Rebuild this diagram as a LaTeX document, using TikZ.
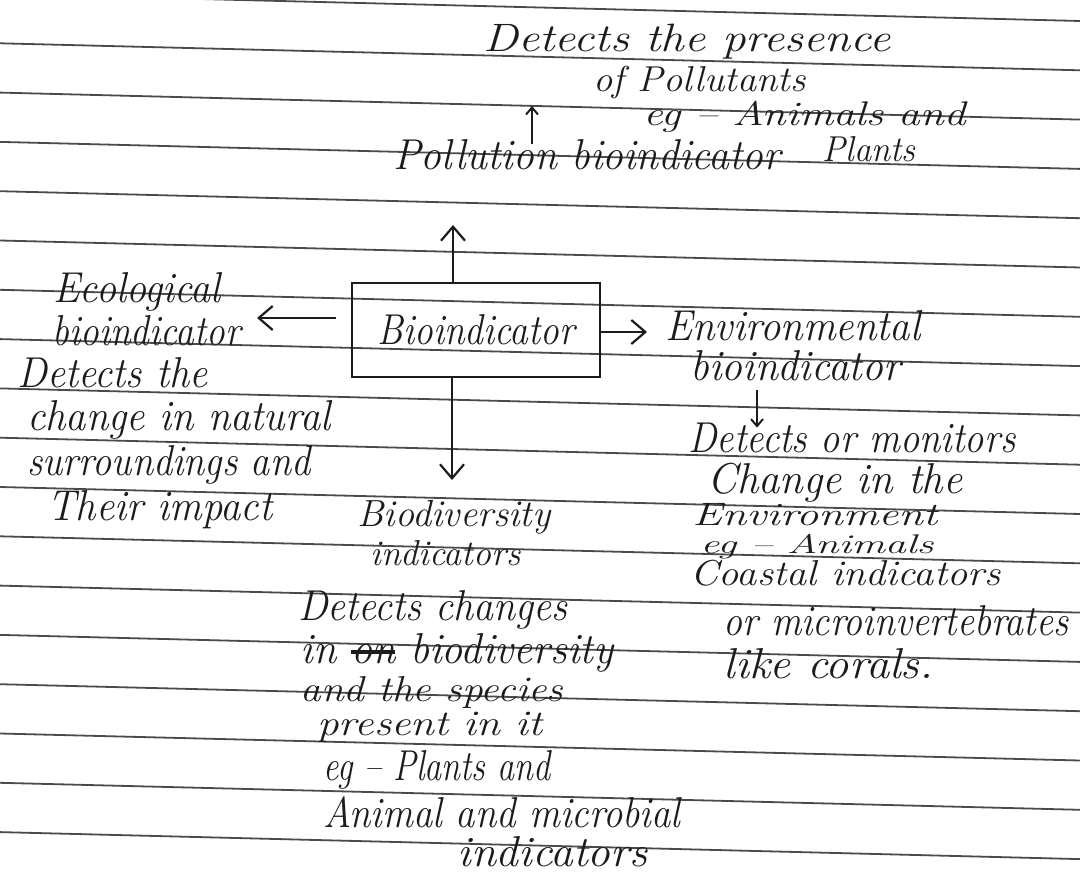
\documentclass[tikz,border=0pt]{standalone}
\usepackage{fontspec}
\usepackage{graphicx}
\usetikzlibrary{arrows.meta}
\newlength\pxu \setlength\pxu{0.5pt}
\newsavebox\strkbox
\newcommand\strk[1]{\sbox\strkbox{#1}\rlap{\rule[0.22em]{\wd\strkbox}{0.07em}}\usebox\strkbox}
\newcommand\hw[3][1.2]{\resizebox{#2\pxu}{#1\height}{\itshape #3}}
\definecolor{ink}{HTML}{1C1C1C}
\definecolor{rulec}{HTML}{4A4A4A}
\tikzset{
  hw/.style={anchor=west, inner sep=0pt, text height=11pt, text depth=3pt, text=ink, font=\fontsize{18}{20}\selectfont},
  hwt/.style={hw, text height=9pt, text depth=2pt},
  rulel/.style={draw=rulec, line width=0.9pt},
  arr/.style={draw=ink, line width=1.1pt, -{Straight Barb[length=7pt,width=12pt]}},
  arrs/.style={draw=ink, line width=1pt, -{Straight Barb[length=3.5pt,width=6pt]}},
  boxn/.style={draw=ink, line width=1.1pt, minimum width=124pt, minimum height=47pt, inner sep=0pt, font=\fontsize{18}{20}\selectfont, text=ink}
}
\begin{document}
\begin{tikzpicture}[x=0.5pt,y=-0.5pt]
\useasboundingbox (0,0) rectangle (1080,877);
\fill[white] (0,0) rectangle (1080,877);
\clip (0,0) rectangle (1080,877);
% ruled paper
\foreach \k in {0,...,18} {
  \draw[rulel] (0,{-6+49.3*\k}) -- (1080,{21+49.3*\k});
}
% top
\node[hw] (t1) at (483,44) {\hw[1.1]{407}{Detects the presence}};
\node[hw] (t2) at (593,84) {\hw[1.0]{212}{of Pollutants}};
\node[hwt] (t3) at (643,119) {\hw[0.95]{322}{eg -- Animals and}};
\node[hwt] (t4) at (822,155) {\hw[1.0]{93}{Plants}};
\node[hw] (poll) at (393,162) {\hw{387}{Pollution bioindicator}};
% centre box
\node[boxn] (bio) at (476,330) {\hw{197}{Bioindicator}};
% left
\node[hw] (e1) at (53,294) {\hw{167}{Ecological}};
\node[hw] (e2) at (52,337) {\hw{188}{bioindicator}};
\node[hw] (e3) at (17,379) {\hw{190}{Detects the}};
\node[hw] (e4) at (27,422) {\hw{303}{change in natural}};
\node[hw] (e5) at (27,467) {\hw{283}{surroundings and}};
\node[hw] (e6) at (47,512) {\hw{225}{Their impact}};
% right
\node[hw] (r1) at (665,332) {\hw{255}{Environmental}};
\node[hw] (r2) at (690,372) {\hw{210}{bioindicator}};
\node[hw] (r3) at (688,444) {\hw{327}{Detects or monitors}};
\node[hw] (r4) at (707,485) {\hw{255}{Change in the}};
\node[hwt] (r5) at (692,518) {\hw[0.9]{245}{Environment}};
\node[hwt] (r6) at (700,546) {\hw[0.75]{233}{eg -- Animals}};
\node[hwt] (r7) at (690,578) {\hw[1.0]{310}{Coastal indicators}};
\node[hw] (r8) at (723,627) {\hw{345}{or microinvertebrates}};
\node[hw] (r9) at (723,670) {\hw{210}{like corals.}};
% bottom
\node[hwt] (b1) at (357,519) {\hw[1.05]{193}{Biodiversity}};
\node[hwt] (b2) at (370,558) {\hw[1.0]{150}{indicators}};
\node[hw] (b3) at (298,612) {\hw{269}{Detects changes}};
\node[hw] (b4) at (300,655) {\hw{313}{in \strk{on} biodiversity}};
\node[hwt] (b5) at (300,694) {\hw[1.0]{263}{and the species}};
\node[hwt] (b6) at (317,728) {\hw[1.0]{225}{present in it}};
\node[hw] (b7) at (323,772) {\hw{227}{eg -- Plants and}};
\node[hw] (b8) at (323,819) {\hw{357}{Animal and microbial}};
\node[hw] (b9) at (457,858) {\hw{190}{indicators}};
% connectors
\coordinate (ua) at (453,225);
\coordinate (pa) at (532,106);
\coordinate (la) at (257,318);
\coordinate (da) at (452,480);
\coordinate (sx) at (757,0);
\draw[arr] (bio.north -| ua) -- (ua);
\draw[arrs, shorten <=2pt] (poll.north -| pa) -- (pa);
\draw[arr, shorten <=7.5pt] (bio.west |- la) -- (la);
\draw[arr, shorten >=9pt] (bio.east |- r1.west) -- (r1.west);
\draw[arr] (bio.south -| da) -- (da);
\draw[arrs, shorten <=2pt, shorten >=1pt] (r2.south -| sx) -- (r3.north -| sx);
\end{tikzpicture}
\end{document}
